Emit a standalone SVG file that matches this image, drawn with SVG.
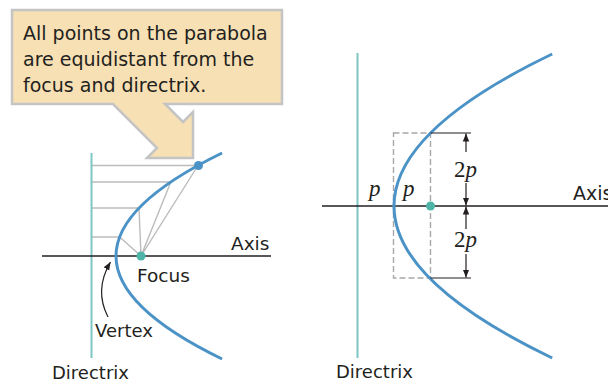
<svg xmlns="http://www.w3.org/2000/svg" width="608" height="384" viewBox="0 0 608 384">
<style>
.sans{font-family:"DejaVu Sans","Liberation Sans",sans-serif;fill:#231f20}
.serif{font-family:"Liberation Serif","DejaVu Serif",serif;fill:#231f20}
.parab{fill:none;stroke:#4b93c7;stroke-width:3}
.dirx{stroke:#7ec6c3;stroke-width:2}
.axis{stroke:#231f20;stroke-width:1.3}
.guide{stroke:#bcbcbc;stroke-width:1.4;fill:none}
.dim{stroke:#231f20;stroke-width:1.2;fill:none}
.dash{stroke:#a8a8a8;stroke-width:1.4;fill:none;stroke-dasharray:6 3}
</style>
<defs>
<marker id="ah" viewBox="0 0 10 10" refX="10" refY="5" markerWidth="8" markerHeight="8" markerUnits="userSpaceOnUse" orient="auto-start-reverse">
<path d="M0,1 L10,5 L0,9 Z" fill="#231f20"/>
</marker>
</defs>

<g id="callout">
<path d="M12,10 H282 V104 H165 L183,122 L193,112 V158 H147 L157,148 L113,104 H12 Z" fill="#f7e0b4" stroke="#c4c4c4" stroke-width="2.5" stroke-linejoin="miter"/>
<text class="sans" font-size="19" x="23" y="40">All points on the parabola</text>
<text class="sans" font-size="19" x="23" y="66">are equidistant from the</text>
<text class="sans" font-size="19" x="23" y="92">focus and directrix.</text>
</g>

<g id="left-diagram">
<g id="left-guides">
<path class="guide" d="M91.5,165.5 H198 M91.5,182 H170.8 M91.5,208 H139 M91.5,237 H119.6"/>
<path class="guide" d="M198,165.5 L141,256 M170.8,182 L141,256 M139,208 L141,256 M119.6,237 L141,256"/>
</g>
<line id="left-directrix" class="dirx" x1="91.5" y1="153" x2="91.5" y2="358"/>
<line id="left-axis" class="axis" x1="42" y1="256" x2="271" y2="256"/>
<path id="left-parabola" class="parab" d="M222.1,153 Q9.9,256 222.1,359"/>
<circle id="left-point" cx="198.5" cy="165.5" r="4.5" fill="#4b93c7"/>
<circle id="left-focus" cx="141" cy="256" r="4.5" fill="#4fb4a8"/>
<g id="vertex-arrow">
<path class="dim" d="M108,317 Q94,290 110.5,262" marker-end="url(#ah)"/>
</g>
<text class="sans" font-size="18.5" x="231" y="250">Axis</text>
<text class="sans" font-size="18.5" x="137" y="282">Focus</text>
<text class="sans" font-size="18" x="95" y="337">Vertex</text>
<text class="sans" font-size="18" x="52" y="379">Directrix</text>
</g>

<g id="right-diagram">
<line id="right-directrix" class="dirx" x1="357.5" y1="53" x2="357.5" y2="358"/>
<line id="right-axis" class="axis" x1="322" y1="206" x2="608" y2="206"/>
<rect id="latus-box" class="dash" x="393.5" y="133" width="37" height="145"/>
<path id="right-parabola" class="parab" d="M552.2,54 Q235.8,206 552.2,358"/>
<circle id="right-focus" cx="430.5" cy="206" r="4.5" fill="#4fb4a8"/>
<g id="dimensions">
<path class="dim" d="M430.5,133 H471 M430.5,278 H471"/>
<path class="dim" d="M466,152 V133.5" marker-end="url(#ah)"/>
<path class="dim" d="M466,183 V205.5" marker-end="url(#ah)"/>
<path class="dim" d="M466,229 V206.5" marker-end="url(#ah)"/>
<path class="dim" d="M466,254 V277.5" marker-end="url(#ah)"/>
</g>
<text class="serif" font-size="23" x="454" y="177">2<tspan font-style="italic">p</tspan></text>
<text class="serif" font-size="23" x="454" y="247">2<tspan font-style="italic">p</tspan></text>
<text class="serif" font-size="23" font-style="italic" x="369" y="196">p</text>
<text class="serif" font-size="23" font-style="italic" x="403" y="196">p</text>
<text class="sans" font-size="19" x="573" y="200">Axis</text>
<text class="sans" font-size="18" x="336" y="378">Directrix</text>
</g>
</svg>
